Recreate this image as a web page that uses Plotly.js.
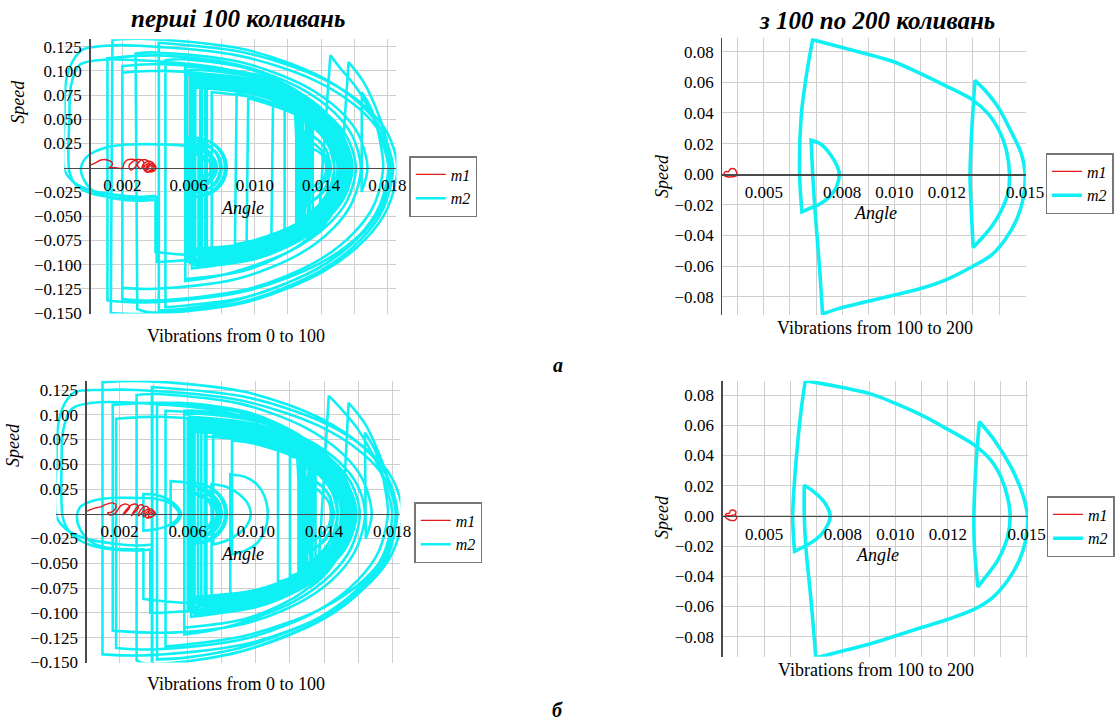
<!DOCTYPE html>
<html><head><meta charset="utf-8">
<script src="https://cdn.plot.ly/plotly-3.0.1.min.js"></script>
<style>html,body{margin:0;padding:0;background:#fff}#chart{width:1115px;height:720px}</style>
</head><body><div id="chart"></div>
<script>
// ---------- DATA: (angle, speed) points, grouped by loop / segment ----------
const p1_m1 = [[[0.0001,0.003],[0.0004,0.0052],[0.0007,0.008],[0.0011,0.008],[0.0014,0.0045],[0.0013,0.001],[0.0012,0.0004],[0.0016,0.0],[0.0020,-0.0006],[0.0021,0.0045],[0.0023,0.008],[0.0026,0.0087],[0.0029,0.0062],[0.0028,0.001],[0.0025,-0.0024],[0.0024,0.002],[0.0026,0.006],[0.0029,0.0085],[0.0032,0.0078],[0.0033,0.004],[0.0031,-0.001],[0.0029,0.003],[0.0031,0.0075],[0.0034,0.0082],[0.0036,0.006],[0.0036,0.001],[0.0034,-0.003],[0.0032,0.001],[0.0034,0.0055],[0.0037,0.0065],[0.0039,0.004],[0.0039,-0.001],[0.0037,-0.004],[0.0034,-0.004],[0.0033,0.0],[0.0035,0.004],[0.0038,0.0045],[0.0040,0.002],[0.0040,-0.002],[0.0037,-0.0045],[0.0034,-0.003],[0.0035,0.002],[0.0038,0.003],[0.0039,0.0],[0.0037,-0.003],[0.0035,-0.001],[0.0036,0.002],[0.0038,0.001],[0.0037,-0.002]]];

// loops shared by both "first 100" panels in the dense right-hand block
const rightBlockLoops = [
[[0.0124,0.066],[0.0132,0.058],[0.0140,0.046],[0.0147,0.029],[0.0151,0.012],[0.0152,0],[0.0151,-0.013],[0.0147,-0.031],[0.0140,-0.048],[0.0132,-0.060],[0.0125,-0.068]],
[[0.0125,0.040],[0.0132,0.036],[0.0138,0.029],[0.0143,0.018],[0.0145,0.008],[0.0146,0],[0.0145,-0.009],[0.0143,-0.019],[0.0138,-0.030],[0.0132,-0.038],[0.0126,-0.043]],
[[0.0126,0.070],[0.0134,0.062],[0.0142,0.049],[0.0149,0.031],[0.0153,0.013],[0.0154,0],[0.0153,-0.014],[0.0149,-0.033],[0.0142,-0.051],[0.0134,-0.064],[0.0127,-0.072]],
[[0.0127,0.048],[0.0134,0.043],[0.0140,0.034],[0.0145,0.021],[0.0147,0.009],[0.0148,0],[0.0147,-0.010],[0.0145,-0.022],[0.0140,-0.036],[0.0134,-0.046],[0.0129,-0.052]],
[[0.0129,0.068],[0.0136,0.060],[0.0143,0.047],[0.0149,0.030],[0.0152,0.013],[0.0153,0],[0.0152,-0.014],[0.0149,-0.032],[0.0143,-0.050],[0.0136,-0.062],[0.0130,-0.070]],
[[0.0130,0.035],[0.0136,0.031],[0.0141,0.024],[0.0144,0.015],[0.0145,0],[0.0144,-0.016],[0.0141,-0.026],[0.0136,-0.033],[0.0131,-0.037]],
[[0.0131,0.072],[0.0138,0.064],[0.0145,0.050],[0.0151,0.031],[0.0154,0.013],[0.0155,0],[0.0154,-0.014],[0.0151,-0.033],[0.0145,-0.052],[0.0138,-0.066],[0.0132,-0.074]],
[[0.0132,0.058],[0.0139,0.050],[0.0145,0.038],[0.0149,0.022],[0.0151,0],[0.0149,-0.023],[0.0145,-0.040],[0.0139,-0.052],[0.0133,-0.060]],
[[0.0133,0.066],[0.0140,0.057],[0.0146,0.044],[0.0151,0.027],[0.0153,0],[0.0151,-0.028],[0.0146,-0.046],[0.0140,-0.058],[0.0126,-0.070]],
[[0.0126,0.052],[0.0133,0.047],[0.0139,0.038],[0.0144,0.025],[0.0147,0.011],[0.0148,0],[0.0147,-0.012],[0.0144,-0.026],[0.0139,-0.040],[0.0133,-0.049],[0.0128,-0.055]]
];

const p1_m2 = [
[[0.0040,-0.029],[0.0030,-0.030],[0.0016,-0.028],[0.0000,-0.023],[-0.0010,-0.014],[-0.0015,-0.002],[-0.0015,0.050],[-0.0014,0.090],[-0.0010,0.110],[-0.0004,0.122],[0.0010,0.126],[0.0030,0.126],[0.00908,0.1155],[0.01364,0.090],[0.01622,0.0621],[0.01759,0.0353],[0.0182,0],[0.01759,-0.0414],[0.01622,-0.073],[0.01364,-0.1057],[0.00908,-0.1357],[0.0060,-0.145],[0.0042,-0.1475]],
[[0.0042,0.129],[0.00954,0.1183],[0.01407,0.0921],[0.01664,0.0636],[0.0180,0.0361],[0.0186,0],[0.0180,-0.0423],[0.01664,-0.0744],[0.01407,-0.1078],[0.00954,-0.1385],[0.0035,-0.151],[0.0013,-0.150]],
[[0.0014,0.132],[0.0035,0.133],[0.00942,0.122],[0.01386,0.095],[0.01638,0.0656],[0.01771,0.0372],[0.0183,0],[0.01771,-0.0389],[0.01638,-0.0685],[0.01386,-0.0992],[0.00942,-0.1275],[0.0035,-0.139],[0.0011,-0.137]],
[[0.0011,0.113],[0.0040,0.116],[0.00896,0.1064],[0.01268,0.0828],[0.01479,0.0572],[0.0159,0.0325],[0.0164,0],[0.0159,-0.035],[0.01479,-0.0616],[0.01268,-0.0893],[0.00896,-0.1146],[0.0040,-0.125],[0.0020,-0.124]],
[[0.0020,0.105],[0.0045,0.107],[0.00898,0.0981],[0.01234,0.0764],[0.01424,0.0528],[0.01525,0.030],[0.0157,0],[0.01525,-0.0272],[0.01424,-0.0478],[0.01234,-0.0693],[0.00898,-0.0889],[0.0045,-0.097],[0.0041,-0.097]],
[[0.0041,-0.030],[0.0030,-0.032],[0.0016,-0.031],[0.0002,-0.027],[-0.0008,-0.018],[-0.0012,-0.004],[-0.0012,0.050],[-0.0011,0.085],[-0.0006,0.106],[0.0005,0.111],[0.0030,0.111],[0.00824,0.1018],[0.01217,0.0793],[0.0144,0.0547],[0.01558,0.0311],[0.0161,0],[0.01558,-0.0336],[0.0144,-0.0592],[0.01217,-0.0857],[0.00824,-0.110],[0.0058,-0.117]],
[[0.0058,0.100],[0.0065,0.101],[0.01022,0.0926],[0.01301,0.0721],[0.01459,0.0498],[0.01543,0.0283],[0.0158,0],[0.01543,-0.0252],[0.01459,-0.0444],[0.01301,-0.0643],[0.01022,-0.0825],[0.0065,-0.090],[0.0040,-0.087]],
[[0.0040,-0.033],[0.0030,-0.034],[0.0016,-0.032],[0.0004,-0.026],[-0.0003,-0.013],[-0.0005,0.0],[-0.0001,0.012],[0.0010,0.021],[0.0025,0.024],[0.0045,0.024],[0.0058,0.0225],[0.0066,0.016],[0.0070,0.007],[0.0071,0.0],[0.0069,-0.010],[0.0065,-0.017],[0.0061,-0.021]],
[[0.0061,0.095],[0.0101,0.0871],[0.0128,0.0678],[0.01433,0.0468],[0.01514,0.0266],[0.0155,0],[0.01514,-0.028],[0.01433,-0.0493],[0.0128,-0.0714],[0.0101,-0.0917],[0.0065,-0.100],[0.0063,-0.100]],
[[0.0063,0.028],[0.00694,0.0257],[0.00742,0.020],[0.00769,0.0138],[0.00784,0.0078],[0.0079,0],[0.00784,-0.0073],[0.00769,-0.0128],[0.00742,-0.0186],[0.00694,-0.0238],[0.0062,-0.026]],
[[0.0062,0.088],[0.01002,0.0807],[0.01266,0.0628],[0.01416,0.0434],[0.01495,0.0246],[0.0153,0],[0.01495,-0.0272],[0.01416,-0.0478],[0.01266,-0.0693],[0.01002,-0.0889],[0.0065,-0.097],[0.0064,-0.097]],
[[0.0064,0.092],[0.01006,0.0844],[0.01273,0.0657],[0.01424,0.0454],[0.01504,0.0258],[0.0154,0],[0.01504,-0.0246],[0.01424,-0.0434],[0.01273,-0.0628],[0.01006,-0.0807],[0.0095,-0.082]],
[[0.0096,0.072],[0.01245,0.055],[0.0139,0.038],[0.01466,0.0216],[0.0150,0],[0.01466,-0.023],[0.0139,-0.0404],[0.01245,-0.0585],[0.0099,-0.0752],[0.0088,-0.079]],
[[0.0089,0.076],[0.00998,0.0724],[0.01259,0.0564],[0.01407,0.039],[0.01485,0.0221],[0.0152,0],[0.01485,-0.0252],[0.01407,-0.0444],[0.01259,-0.0643],[0.00998,-0.0825],[0.0065,-0.090],[0.0062,-0.090]],
[[0.0062,0.022],[0.00672,0.0202],[0.00711,0.0157],[0.00733,0.0108],[0.00745,0.0062],[0.0075,0],[0.00745,-0.0056],[0.00733,-0.0099],[0.00711,-0.0143],[0.00672,-0.0183],[0.0061,-0.020]],
[[0.0061,0.098],[0.01018,0.0899],[0.01294,0.070],[0.0145,0.0483],[0.01533,0.0274],[0.0157,0],[0.01533,-0.0286],[0.0145,-0.0503],[0.01294,-0.0728],[0.01018,-0.0935],[0.0068,-0.102]],
[[0.0068,0.085],[0.00998,0.0779],[0.01259,0.0607],[0.01407,0.0419],[0.01485,0.0238],[0.0152,0],[0.01485,-0.0263],[0.01407,-0.0463],[0.01259,-0.0671],[0.00998,-0.0862],[0.0065,-0.094],[0.0060,-0.094]],
[[0.0060,0.032],[0.0070,0.0293],[0.0076,0.0228],[0.00794,0.0158],[0.00812,0.009],[0.0082,0],[0.00812,-0.0084],[0.00794,-0.0148],[0.0076,-0.0214],[0.0070,-0.0275],[0.0062,-0.030]],
[[0.0062,0.091],[0.01014,0.0834],[0.01287,0.065],[0.01442,0.0449],[0.01524,0.0255],[0.0156,0],[0.01524,-0.0266],[0.01442,-0.0468],[0.0130,-0.066]],
[[0.0131,0.060],[0.01416,0.0449],[0.01495,0.0255],[0.0153,0],[0.01495,-0.0252],[0.01416,-0.0444],[0.0133,-0.058]],
[[0.0134,0.052],[0.0143,0.038],[0.0149,0.021],[0.0151,0],[0.0149,-0.021],[0.0143,-0.037],[0.0136,-0.048],[0.0128,-0.062],[0.0101,-0.082],[0.0065,-0.090],[0.0063,-0.090]],
[[0.0063,0.087],[0.01002,0.0798],[0.01266,0.0621],[0.01416,0.0429],[0.01495,0.0244],[0.0153,0],[0.01495,-0.0255],[0.01416,-0.0449],[0.0127,-0.065]],
[[0.0128,0.064],[0.0136,0.055],[0.01416,0.0454],[0.01495,0.0258],[0.0154,0],[0.01504,-0.0246],[0.01424,-0.0434],[0.01273,-0.0628],[0.01006,-0.0807],[0.0065,-0.088],[0.0061,-0.088]],
[[0.0061,0.025],[0.0067,0.0229],[0.00715,0.0179],[0.0074,0.0123],[0.00754,0.007],[0.0076,0],[0.00754,-0.0067],[0.0074,-0.0118],[0.00715,-0.0171],[0.0067,-0.022],[0.0062,-0.024]],
[[0.0062,0.094],[0.0101,0.0862],[0.0128,0.0671],[0.01433,0.0463],[0.01514,0.0263],[0.0155,0],[0.01514,-0.0274],[0.01433,-0.0483],[0.0128,-0.070],[0.0101,-0.0899],[0.0065,-0.098],[0.0061,-0.098]],
[[0.0061,0.090],[0.00998,0.0825],[0.01259,0.0643],[0.01407,0.0444],[0.01485,0.0252],[0.0152,0],[0.01485,-0.0238],[0.01407,-0.0419],[0.01259,-0.0607],[0.0110,-0.071]],
[[0.0111,0.068],[0.01259,0.0571],[0.01407,0.0394],[0.01485,0.0224],[0.0152,0],[0.01485,-0.0241],[0.01407,-0.0424],[0.01259,-0.0614],[0.00998,-0.0789],[0.0066,-0.086]],
[[0.0066,0.018],[0.0070,0.0165],[0.00737,0.0129],[0.00756,0.0089],[0.00766,0.005],[0.0077,0],[0.00766,-0.005],[0.00756,-0.0089],[0.00737,-0.0129],[0.0070,-0.0165],[0.0064,-0.018]],
[[0.0064,0.083],[0.00994,0.0761],[0.01252,0.0593],[0.01398,0.0409],[0.01476,0.0232],[0.0151,0],[0.01476,-0.0258],[0.01398,-0.0454],[0.0126,-0.066]],
[[0.0127,0.058],[0.0135,0.051],[0.01416,0.0434],[0.01495,0.0246],[0.0153,0],[0.01495,-0.0246],[0.01416,-0.0434],[0.0132,-0.057]],
[[0.0132,0.045],[0.0140,0.036],[0.0146,0.022],[0.0148,0],[0.0146,-0.022],[0.0140,-0.036],[0.0133,-0.048]],
[[0.0133,0.020],[0.0138,0.017],[0.0142,0.010],[0.0143,0],[0.0142,-0.010],[0.0138,-0.017],[0.0132,-0.021]],
[[0.0132,0.052],[0.0141,0.041],[0.0147,0.024],[0.0150,0],[0.0147,-0.024],[0.0139,-0.045]],
[[0.01456,0.116],[0.01515,0.103],[0.01616,0.082],[0.01717,0.051],[0.01776,0.023],[0.01806,0],[0.0175,-0.0406],[0.01623,-0.0715],[0.01384,-0.1035],[0.00962,-0.133],[0.0060,-0.142],[0.0046,-0.144]],
[[0.0046,0.111],[0.0055,0.112],[0.0095,0.1027],[0.0125,0.080],[0.0142,0.0552],[0.0151,0.0314],[0.0155,0],[0.0151,-0.0322],[0.0142,-0.0567],[0.0125,-0.0821],[0.0095,-0.1055],[0.0058,-0.115]],
[[0.0058,0.104],[0.0065,0.104],[0.01022,0.0954],[0.01301,0.0743],[0.01459,0.0513],[0.01543,0.0291],[0.0158,0],[0.01543,-0.028],[0.0151,-0.034]],
[[0.01566,0.109],[0.01656,0.0886],[0.01755,0.0512],[0.0180,0.025],[0.01835,0],[0.01776,-0.042],[0.01642,-0.074],[0.0139,-0.107],[0.00944,-0.1376],[0.0050,-0.149],[0.0035,-0.149],[0.0029,-0.146]],
[[0.0028,0.118],[0.0040,0.119],[0.00912,0.1091],[0.01296,0.085],[0.01514,0.0587],[0.01629,0.0333],[0.0168,0],[0.01645,-0.025]],
[[0.01646,0.078],[0.0170,0.062],[0.01735,0.044],[0.01762,0.022],[0.01775,0],[0.0172,-0.0384],[0.01596,-0.0675],[0.01363,-0.0978],[0.0095,-0.1256],[0.0040,-0.137],[0.0020,-0.1355]],
[[0.0020,0.098],[0.0045,0.100],[0.00906,0.0917],[0.01248,0.0714],[0.01442,0.0493],[0.01544,0.028],[0.0159,0],[0.01544,-0.0294],[0.01442,-0.0518],[0.01248,-0.075],[0.00906,-0.0963],[0.0062,-0.104]],
[[0.0062,0.096],[0.01014,0.088],[0.01287,0.0685],[0.01442,0.0473],[0.01524,0.0269],[0.0156,0],[0.01524,-0.0277],[0.01442,-0.0488],[0.01287,-0.0707],[0.01014,-0.0908],[0.0066,-0.099]],
[[0.0066,0.030],[0.00722,0.0275],[0.00776,0.0214],[0.00807,0.0148],[0.00823,0.0084],[0.0083,0],[0.00823,-0.0084],[0.00807,-0.0148],[0.00776,-0.0214],[0.00722,-0.0275],[0.0064,-0.030]],
[[0.0064,0.089],[0.01006,0.0816],[0.01273,0.0635],[0.01424,0.0439],[0.01504,0.0249],[0.0154,0],[0.01504,-0.026],[0.01424,-0.0458],[0.01273,-0.0664],[0.01006,-0.0853],[0.0072,-0.092],[0.0070,-0.092]],
[[0.0070,0.082],[0.00998,0.0755],[0.01259,0.0588],[0.01407,0.0406],[0.01485,0.0231],[0.0152,0],[0.01485,-0.0235],[0.01407,-0.0414],[0.01259,-0.060],[0.00998,-0.077],[0.0074,-0.083]],
[[0.0074,0.078],[0.00994,0.0724],[0.01252,0.0564],[0.01398,0.039],[0.01476,0.0221],[0.0151,0],[0.01476,-0.0241],[0.01398,-0.0424],[0.01252,-0.0614],[0.00994,-0.0789],[0.0065,-0.086],[0.0063,-0.086]],
[[0.0063,0.020],[0.0068,0.018],[0.0072,0.013],[0.0074,0.007],[0.0075,0],[0.0074,-0.007],[0.0072,-0.013],[0.0068,-0.018],[0.0062,-0.021]],
[[0.0062,0.093],[0.0101,0.0853],[0.0128,0.0664],[0.01433,0.0458],[0.01514,0.026],[0.0155,0],[0.01514,-0.0272],[0.01433,-0.0478],[0.0128,-0.0693],[0.0101,-0.0889],[0.0065,-0.097],[0.0059,-0.097]],
[[0.0059,0.096],[0.0101,0.0880],[0.0128,0.0685],[0.01433,0.0473],[0.01514,0.0269],[0.0155,0],[0.01514,-0.0266],[0.01433,-0.0468],[0.0128,-0.0678],[0.0101,-0.0871],[0.0071,-0.0945]],
[[0.0071,0.086],[0.01002,0.0807],[0.01266,0.0628],[0.01416,0.0434],[0.01495,0.0246],[0.0153,0],[0.01495,-0.0258],[0.01416,-0.0454],[0.01266,-0.0657],[0.01002,-0.0844],[0.0067,-0.092]],
[[0.0067,0.090],[0.01006,0.0825],[0.01273,0.0643],[0.01424,0.0444],[0.01504,0.0252],[0.0154,0],[0.01504,-0.0283],[0.01424,-0.0498],[0.01273,-0.0721],[0.01006,-0.0926],[0.0065,-0.101],[0.0064,-0.101]],
[[0.0064,0.084],[0.00994,0.077],[0.01252,0.060],[0.01398,0.0414],[0.01476,0.0235],[0.0151,0],[0.01476,-0.0252],[0.01398,-0.0444],[0.0129,-0.061]],
[[0.0129,0.062],[0.0137,0.053],[0.01433,0.0444],[0.01514,0.0252],[0.0155,0],[0.01514,-0.0252],[0.01433,-0.0444],[0.0135,-0.056]],
[[0.0135,0.050],[0.0142,0.040],[0.0148,0.024],[0.0151,0],[0.0148,-0.024],[0.0142,-0.040],[0.0134,-0.052],[0.0128,-0.060],[0.0101,-0.081],[0.0066,-0.088]],
[[0.0066,0.024],[0.00715,0.022],[0.0076,0.017],[0.00785,0.011],[0.00795,0.006],[0.0080,0],[0.00795,-0.006],[0.00785,-0.011],[0.0076,-0.017],[0.00715,-0.022],[0.0064,-0.025]],
[[0.0064,0.014],[0.0068,0.013],[0.0071,0.0095],[0.0073,0.005],[0.0073,0],[0.0073,-0.005],[0.0071,-0.0095],[0.0068,-0.013],[0.0063,-0.015]],
[[0.0063,0.097],[0.01018,0.089],[0.01294,0.0693],[0.0145,0.0478],[0.01533,0.0272],[0.0157,0],[0.01533,-0.0280],[0.0145,-0.0493],[0.01294,-0.0714],[0.01018,-0.0917],[0.0070,-0.099]],
[[0.0070,0.084],[0.00998,0.0770],[0.01259,0.060],[0.01407,0.0414],[0.01485,0.0235],[0.0152,0],[0.01485,-0.0232],[0.01407,-0.0409],[0.01259,-0.0593],[0.0118,-0.064]],
[[0.0118,0.060],[0.01259,0.055],[0.01407,0.038],[0.01485,0.0216],[0.0152,0],[0.01485,-0.0235],[0.01407,-0.0414],[0.01259,-0.060],[0.00998,-0.077],[0.0062,-0.084]],
[[0.0062,0.086],[0.01002,0.0789],[0.01266,0.0614],[0.01416,0.0424],[0.01495,0.0241],[0.0153,0],[0.01495,-0.0241],[0.01416,-0.0424],[0.0128,-0.058]],
[[0.0128,0.030],[0.0134,0.027],[0.0139,0.020],[0.0143,0.011],[0.0144,0],[0.0143,-0.011],[0.0139,-0.020],[0.0134,-0.027],[0.0127,-0.031]]
].concat(rightBlockLoops).concat([
[[0.0127,0.055],[0.0135,0.048],[0.01416,0.040],[0.01495,0.0228],[0.0153,0],[0.01495,-0.0246],[0.01416,-0.0434],[0.01273,-0.0628],[0.01006,-0.0807],[0.0065,-0.088],[0.0060,-0.088]]
]);

const p2_m1 = [[[0.00348,0.0],[0.00350,0.0012],[0.00358,0.0018],[0.00365,0.0016],[0.0037,0.003],[0.0038,0.0037],[0.0039,0.0032],[0.00395,0.0015],[0.00398,0.0],[0.00395,-0.0012],[0.0038,-0.0017],[0.0036,-0.0017],[0.0035,-0.001],[0.00348,0.0]]];

const p2_m2 = [
[[0.00687,0.0878],[0.0089,0.0787],[0.0100,0.0733],[0.0110,0.0657],[0.0120,0.0574],[0.01297,0.0487],[0.01358,0.0396],[0.01403,0.0276],[0.01428,0.0157],[0.0144,0],[0.01434,-0.0126],[0.01409,-0.0235],[0.01371,-0.0343],[0.01333,-0.042],[0.01301,-0.0478]],
[[0.01301,-0.0478],[0.01292,-0.017],[0.01289,0],[0.01295,0.0265],[0.01308,0.0613]],
[[0.01308,0.0613],[0.01346,0.0548],[0.01396,0.0439],[0.01447,0.0276],[0.01485,0.0135],[0.0150,0],[0.01491,-0.017],[0.01466,-0.030],[0.01422,-0.043],[0.01371,-0.0528],[0.01297,-0.0604],[0.01194,-0.0691],[0.0110,-0.0746],[0.0100,-0.0789],[0.0089,-0.0833],[0.00789,-0.0876],[0.00725,-0.0913]],
[[0.00725,-0.0913],[0.00713,-0.0604],[0.00697,-0.0257],[0.00687,0.0004],[0.00681,0.0222]],
[[0.00681,0.0222],[0.00719,0.0196],[0.00757,0.0124],[0.00782,0.0048],[0.00789,0],[0.00778,-0.0083],[0.00751,-0.0148],[0.00713,-0.0196],[0.00675,-0.0224],[0.00646,-0.0246]],
[[0.00646,-0.0246],[0.00637,0],[0.00643,0.0374],[0.00662,0.0635],[0.00687,0.0878]]
];

const p3_m1 = [[[0.0001,0.0027],[0.0006,0.006],[0.0009,0.007],[0.0012,0.0095],[0.0016,0.011],[0.0018,0.0085],[0.0017,0.004],[0.0015,0.0015],[0.0013,0.001],[0.0014,-0.001],[0.0017,0.0],[0.0019,0.004],[0.0021,0.0085],[0.0024,0.0098],[0.0026,0.007],[0.0024,0.002],[0.0022,-0.001],[0.0024,0.004],[0.0027,0.009],[0.0030,0.0095],[0.0031,0.006],[0.0028,0.0],[0.0027,-0.002],[0.0029,0.004],[0.0032,0.009],[0.0034,0.008],[0.0034,0.003],[0.0031,-0.002],[0.0032,0.003],[0.0035,0.0075],[0.0037,0.006],[0.0037,0.001],[0.0034,-0.003],[0.0035,0.003],[0.0038,0.005],[0.0040,0.003],[0.0041,0.0],[0.0039,-0.003],[0.0036,-0.004],[0.0035,-0.001],[0.0037,0.003],[0.0040,0.002],[0.0040,-0.002],[0.0037,-0.003],[0.0038,0.001],[0.0040,0.0]]];

const p3_m2 = [
[[0.0039,-0.031],[0.0030,-0.032],[0.0016,-0.030],[0.0000,-0.025],[-0.0011,-0.016],[-0.0017,-0.003],[-0.0017,0.050],[-0.0016,0.090],[-0.0012,0.112],[-0.0006,0.123],[0.0010,0.125],[0.0030,0.125],[0.00908,0.1146],[0.01364,0.0893],[0.01622,0.0616],[0.01759,0.035],[0.0182,0],[0.01759,-0.0426],[0.01622,-0.075],[0.01364,-0.1085],[0.00908,-0.1394],[0.0060,-0.149],[0.0039,-0.152]],
[[0.0039,0.128],[0.00954,0.1174],[0.01407,0.0914],[0.01664,0.0631],[0.0180,0.0358],[0.0186,0],[0.0180,-0.040],[0.01664,-0.0705],[0.01407,-0.1021],[0.00954,-0.1311],[0.0035,-0.143],[0.0010,-0.142]],
[[0.0010,0.133],[0.0035,0.134],[0.00942,0.1229],[0.01386,0.0957],[0.01638,0.0661],[0.01771,0.0375],[0.0183,0],[0.01771,-0.0375],[0.01638,-0.0661],[0.01386,-0.0957],[0.00942,-0.1229],[0.0047,-0.134]],
[[0.0047,0.104],[0.00956,0.0963],[0.01298,0.075],[0.01492,0.0518],[0.01594,0.0294],[0.0164,0],[0.01594,-0.0336],[0.01492,-0.0592],[0.01298,-0.0857],[0.00956,-0.110],[0.0050,-0.120],[0.0016,-0.118]],
[[0.0016,0.110],[0.0045,0.112],[0.00898,0.1027],[0.01234,0.080],[0.01424,0.0552],[0.01525,0.0314],[0.0157,0],[0.01525,-0.028],[0.01424,-0.0493],[0.01234,-0.0714],[0.00898,-0.0917],[0.0045,-0.100],[0.0038,-0.100]],
[[0.0038,-0.036],[0.0030,-0.037],[0.0016,-0.036],[0.0002,-0.031],[-0.0008,-0.021],[-0.0013,-0.006],[-0.0014,0.050],[-0.0013,0.085],[-0.0008,0.106],[0.0004,0.112],[0.0030,0.112],[0.00824,0.1027],[0.01217,0.080],[0.0144,0.0552],[0.01558,0.0314],[0.0161,0],[0.01558,-0.035],[0.0144,-0.0616],[0.01217,-0.0893],[0.00824,-0.1146],[0.0058,-0.122]],
[[0.0058,0.100],[0.0065,0.101],[0.01022,0.0926],[0.01301,0.0721],[0.01459,0.0498],[0.01543,0.0283],[0.0158,0],[0.01543,-0.0252],[0.01459,-0.0444],[0.01301,-0.0643],[0.01022,-0.0825],[0.0065,-0.090],[0.0034,-0.086]],
[[0.0034,-0.036],[0.0025,-0.036],[0.0012,-0.034],[0.0003,-0.028],[-0.0003,-0.016],[-0.0005,-0.003],[-0.0003,0.007],[0.0004,0.013],[0.0015,0.016],[0.0030,0.016],[0.0040,0.0155],[0.0048,0.012],[0.0053,0.006],[0.0055,0],[0.0053,-0.007],[0.0047,-0.013],[0.0040,-0.016],[0.0034,-0.017]],
[[0.0034,0.020],[0.0042,0.019],[0.0049,0.014],[0.0054,0.007],[0.0056,0],[0.0054,-0.008],[0.0050,-0.013]],
[[0.0050,0.033],[0.0060,0.031],[0.0068,0.025],[0.0074,0.016],[0.0077,0.008],[0.0078,0],[0.0077,-0.008],[0.0074,-0.016],[0.0068,-0.025],[0.0061,-0.030]],
[[0.0061,0.095],[0.0101,0.0871],[0.0128,0.0678],[0.01433,0.0468],[0.01514,0.0266],[0.0155,0],[0.01514,-0.028],[0.01433,-0.0493],[0.0128,-0.0714],[0.0101,-0.0917],[0.0065,-0.100],[0.0063,-0.100]],
[[0.0063,0.028],[0.00694,0.0257],[0.00742,0.020],[0.00769,0.0138],[0.00784,0.0078],[0.0079,0],[0.00784,-0.0073],[0.00769,-0.0128],[0.00742,-0.0186],[0.00694,-0.0238],[0.0062,-0.026]],
[[0.0062,0.088],[0.01002,0.0807],[0.01266,0.0628],[0.01416,0.0434],[0.01495,0.0246],[0.0153,0],[0.01495,-0.0272],[0.01416,-0.0478],[0.01266,-0.0693],[0.01002,-0.0889],[0.0074,-0.096]],
[[0.0074,0.030],[0.0083,0.027],[0.0090,0.020],[0.0095,0.011],[0.0097,0],[0.0095,-0.011],[0.0090,-0.020],[0.0083,-0.027],[0.0075,-0.031]],
[[0.0075,0.080],[0.00998,0.0745],[0.01259,0.058],[0.01407,0.040],[0.01485,0.0228],[0.0152,0],[0.01485,-0.024],[0.01407,-0.042],[0.01259,-0.061],[0.00998,-0.078],[0.0085,-0.081]],
[[0.0085,0.040],[0.0094,0.037],[0.0101,0.029],[0.0105,0.018],[0.0107,0],[0.0105,-0.018],[0.0101,-0.029],[0.0094,-0.037],[0.0086,-0.041]],
[[0.0086,0.074],[0.00998,0.0705],[0.01259,0.0551],[0.01407,0.038],[0.01485,0.0216],[0.0152,0],[0.01485,-0.0252],[0.01407,-0.0444],[0.01259,-0.0643],[0.00998,-0.0825],[0.0065,-0.090],[0.0062,-0.090]],
[[0.0062,0.022],[0.00672,0.0202],[0.00711,0.0157],[0.00733,0.0108],[0.00745,0.0062],[0.0075,0],[0.00745,-0.0056],[0.00733,-0.0099],[0.00711,-0.0143],[0.00672,-0.0183],[0.0061,-0.020]],
[[0.0061,0.098],[0.01018,0.0899],[0.01294,0.070],[0.0145,0.0483],[0.01533,0.0274],[0.0157,0],[0.01533,-0.0286],[0.0145,-0.0503],[0.01294,-0.0728],[0.01018,-0.0935],[0.0068,-0.102]],
[[0.0068,0.085],[0.00998,0.0779],[0.01259,0.0607],[0.01407,0.0419],[0.01485,0.0238],[0.0152,0],[0.01485,-0.0263],[0.01407,-0.0463],[0.01259,-0.0671],[0.00998,-0.0862],[0.0065,-0.094],[0.0060,-0.094]],
[[0.0060,0.032],[0.0070,0.0293],[0.0076,0.0228],[0.00794,0.0158],[0.00812,0.009],[0.0082,0],[0.00812,-0.0084],[0.00794,-0.0148],[0.0076,-0.0214],[0.0070,-0.0275],[0.0062,-0.030]],
[[0.0062,0.091],[0.01014,0.0834],[0.01287,0.065],[0.01442,0.0449],[0.01524,0.0255],[0.0156,0],[0.01524,-0.0266],[0.01442,-0.0468],[0.0130,-0.066]],
[[0.0131,0.060],[0.01416,0.0449],[0.01495,0.0255],[0.0153,0],[0.01495,-0.0252],[0.01416,-0.0444],[0.0133,-0.058]],
[[0.0134,0.052],[0.0143,0.038],[0.0149,0.021],[0.0151,0],[0.0149,-0.021],[0.0143,-0.037],[0.0136,-0.048],[0.0128,-0.062],[0.0101,-0.082],[0.0065,-0.090],[0.0063,-0.090]],
[[0.0063,0.087],[0.01002,0.0798],[0.01266,0.0621],[0.01416,0.0429],[0.01495,0.0244],[0.0153,0],[0.01495,-0.0255],[0.01416,-0.0449],[0.0127,-0.065]],
[[0.0128,0.064],[0.0136,0.055],[0.01416,0.0454],[0.01495,0.0258],[0.0154,0],[0.01504,-0.0246],[0.01424,-0.0434],[0.01273,-0.0628],[0.01006,-0.0807],[0.0065,-0.088],[0.0061,-0.088]],
[[0.0061,0.094],[0.0101,0.0862],[0.0128,0.0671],[0.01433,0.0463],[0.01514,0.0263],[0.0155,0],[0.01514,-0.0274],[0.01433,-0.0483],[0.0128,-0.070],[0.0101,-0.0899],[0.0065,-0.098],[0.0061,-0.098]],
[[0.0061,0.090],[0.00998,0.0825],[0.01259,0.0643],[0.01407,0.0444],[0.01485,0.0252],[0.0152,0],[0.01485,-0.0238],[0.01407,-0.0419],[0.01259,-0.0607],[0.0113,-0.069]],
[[0.0113,0.066],[0.01259,0.0571],[0.01407,0.0394],[0.01485,0.0224],[0.0152,0],[0.01485,-0.0241],[0.01407,-0.0424],[0.01259,-0.0614],[0.00998,-0.0789],[0.0066,-0.086]],
[[0.0066,0.018],[0.0070,0.0165],[0.00737,0.0129],[0.00756,0.0089],[0.00766,0.005],[0.0077,0],[0.00766,-0.005],[0.00756,-0.0089],[0.00737,-0.0129],[0.0070,-0.0165],[0.0064,-0.018]],
[[0.0064,0.083],[0.00994,0.0761],[0.01252,0.0593],[0.01398,0.0409],[0.01476,0.0232],[0.0151,0],[0.01476,-0.0258],[0.01398,-0.0454],[0.0126,-0.066]],
[[0.0127,0.058],[0.0135,0.051],[0.01416,0.0434],[0.01495,0.0246],[0.0153,0],[0.01495,-0.0246],[0.01416,-0.0434],[0.0132,-0.057]],
[[0.0132,0.045],[0.0140,0.036],[0.0146,0.022],[0.0148,0],[0.0146,-0.022],[0.0140,-0.036],[0.0133,-0.048]],
[[0.0133,0.052],[0.0141,0.041],[0.0147,0.024],[0.0150,0],[0.0147,-0.024],[0.0137,-0.047]],
[[0.01428,0.119],[0.0150,0.106],[0.0160,0.085],[0.01705,0.053],[0.0177,0.024],[0.0180,0],[0.0175,-0.0406],[0.01623,-0.0715],[0.01384,-0.1035],[0.00962,-0.133],[0.0060,-0.145],[0.0042,-0.147]],
[[0.0042,0.111],[0.0055,0.112],[0.0095,0.1027],[0.0125,0.080],[0.0142,0.0552],[0.0151,0.0314],[0.0155,0],[0.0151,-0.0322],[0.0142,-0.0567],[0.0125,-0.0821],[0.0095,-0.1055],[0.0058,-0.115]],
[[0.0058,0.104],[0.0065,0.104],[0.01022,0.0954],[0.01301,0.0743],[0.01459,0.0513],[0.01543,0.0291],[0.0158,0],[0.01543,-0.028],[0.0150,-0.035]],
[[0.01544,0.112],[0.0164,0.091],[0.0174,0.053],[0.0179,0.026],[0.01825,0],[0.01776,-0.042],[0.01642,-0.074],[0.0139,-0.107],[0.00944,-0.1376],[0.0050,-0.151],[0.0034,-0.151],[0.0030,-0.148]],
[[0.0030,0.120],[0.0040,0.121],[0.00912,0.111],[0.01296,0.0865],[0.01514,0.0597],[0.01629,0.0339],[0.0168,0],[0.01645,-0.025]],
[[0.0164,0.082],[0.0170,0.064],[0.01735,0.045],[0.01762,0.022],[0.01775,0],[0.0172,-0.0384],[0.01596,-0.0675],[0.01363,-0.0978],[0.0095,-0.1256],[0.0040,-0.137],[0.0018,-0.1355]],
[[0.0018,0.096],[0.0045,0.098],[0.00906,0.0899],[0.01248,0.070],[0.01442,0.0483],[0.01544,0.0274],[0.0159,0],[0.01544,-0.0294],[0.01442,-0.0518],[0.01248,-0.075],[0.00906,-0.0963],[0.0062,-0.104]],
[[0.0062,0.096],[0.01014,0.088],[0.01287,0.0685],[0.01442,0.0473],[0.01524,0.0269],[0.0156,0],[0.01524,-0.0277],[0.01442,-0.0488],[0.01287,-0.0707],[0.01014,-0.0908],[0.0066,-0.099]],
[[0.0066,0.030],[0.00722,0.0275],[0.00776,0.0214],[0.00807,0.0148],[0.00823,0.0084],[0.0083,0],[0.00823,-0.0084],[0.00807,-0.0148],[0.00776,-0.0214],[0.00722,-0.0275],[0.0064,-0.030]],
[[0.0064,0.089],[0.01006,0.0816],[0.01273,0.0635],[0.01424,0.0439],[0.01504,0.0249],[0.0154,0],[0.01504,-0.026],[0.01424,-0.0458],[0.01273,-0.0664],[0.01006,-0.0853],[0.0072,-0.092],[0.0070,-0.092]],
[[0.0070,0.078],[0.00994,0.0724],[0.01252,0.0564],[0.01398,0.039],[0.01476,0.0221],[0.0151,0],[0.01476,-0.0241],[0.01398,-0.0424],[0.01252,-0.0614],[0.00994,-0.0789],[0.0065,-0.086],[0.0063,-0.086]],
[[0.0063,0.020],[0.0068,0.018],[0.0072,0.013],[0.0074,0.007],[0.0075,0],[0.0074,-0.007],[0.0072,-0.013],[0.0068,-0.018],[0.0062,-0.021]],
[[0.0062,0.093],[0.0101,0.0853],[0.0128,0.0664],[0.01433,0.0458],[0.01514,0.026],[0.0155,0],[0.01514,-0.0272],[0.01433,-0.0478],[0.0128,-0.0693],[0.0101,-0.0889],[0.0065,-0.097],[0.0060,-0.097]],
[[0.0060,0.095],[0.0101,0.0871],[0.0128,0.0678],[0.01433,0.0468],[0.01514,0.0266],[0.0155,0],[0.01514,-0.0266],[0.01433,-0.0468],[0.0128,-0.0678],[0.0101,-0.0871],[0.0070,-0.0945]],
[[0.0070,0.087],[0.01002,0.0807],[0.01266,0.0628],[0.01416,0.0434],[0.01495,0.0246],[0.0153,0],[0.01495,-0.0258],[0.01416,-0.0454],[0.01266,-0.0657],[0.01002,-0.0844],[0.0066,-0.092]],
[[0.0066,0.091],[0.01006,0.0834],[0.01273,0.065],[0.01424,0.0449],[0.01504,0.0255],[0.0154,0],[0.01504,-0.0283],[0.01424,-0.0498],[0.01273,-0.0721],[0.01006,-0.0926],[0.0065,-0.101],[0.0064,-0.101]],
[[0.0064,0.084],[0.00994,0.077],[0.01252,0.060],[0.01398,0.0414],[0.01476,0.0235],[0.0151,0],[0.01476,-0.0252],[0.01398,-0.0444],[0.0129,-0.061]],
[[0.0129,0.062],[0.0137,0.053],[0.01433,0.0444],[0.01514,0.0252],[0.0155,0],[0.01514,-0.0252],[0.01433,-0.0444],[0.0135,-0.056]],
[[0.0135,0.050],[0.0142,0.040],[0.0148,0.024],[0.0151,0],[0.0148,-0.024],[0.0142,-0.040],[0.0134,-0.052],[0.0128,-0.060],[0.0101,-0.081],[0.0066,-0.088]],
[[0.0066,0.024],[0.00715,0.022],[0.0076,0.017],[0.00785,0.011],[0.00795,0.006],[0.0080,0],[0.00795,-0.006],[0.00785,-0.011],[0.0076,-0.017],[0.00715,-0.022],[0.0064,-0.025]],
[[0.0064,0.097],[0.01018,0.089],[0.01294,0.0693],[0.0145,0.0478],[0.01533,0.0272],[0.0157,0],[0.01533,-0.0280],[0.0145,-0.0493],[0.01294,-0.0714],[0.01018,-0.0917],[0.0071,-0.099]],
[[0.0071,0.083],[0.00998,0.0770],[0.01259,0.060],[0.01407,0.0414],[0.01485,0.0235],[0.0152,0],[0.01485,-0.0232],[0.01407,-0.0409],[0.01259,-0.0593],[0.0120,-0.063]],
[[0.0120,0.058],[0.01259,0.055],[0.01407,0.038],[0.01485,0.0216],[0.0152,0],[0.01485,-0.0235],[0.01407,-0.0414],[0.01259,-0.060],[0.00998,-0.077],[0.0062,-0.084]],
[[0.0062,0.086],[0.01002,0.0789],[0.01266,0.0614],[0.01416,0.0424],[0.01495,0.0241],[0.0153,0],[0.01495,-0.0241],[0.01416,-0.0424],[0.0128,-0.058]],
[[0.0128,0.030],[0.0134,0.027],[0.0139,0.020],[0.0143,0.011],[0.0144,0],[0.0143,-0.011],[0.0139,-0.020],[0.0134,-0.027],[0.0127,-0.031]]
].concat(rightBlockLoops).concat([
[[0.0127,0.055],[0.0135,0.048],[0.01416,0.040],[0.01495,0.0228],[0.0153,0],[0.01495,-0.0246],[0.01416,-0.0434],[0.01273,-0.0628],[0.01006,-0.0807],[0.0065,-0.088],[0.0060,-0.088]]
]);

const p4_m1 = [[[0.00352,0.0],[0.00356,0.0015],[0.00368,0.0018],[0.00372,0.0035],[0.00385,0.0037],[0.00393,0.0025],[0.0039,0.0008],[0.00396,-0.001],[0.0039,-0.0028],[0.00375,-0.0031],[0.0036,-0.002],[0.00352,-0.0008],[0.00352,0.0],[0.00375,0.0002],[0.0039,0.0008]]];

const p4_m2 = [
[[0.00657,0.0895],[0.00899,0.0811],[0.0100,0.0745],[0.0110,0.0667],[0.01194,0.0578],[0.01301,0.0468],[0.01364,0.0368],[0.01402,0.0257],[0.01427,0.0124],[0.01437,0],[0.01427,-0.0142],[0.01389,-0.0297],[0.01352,-0.0386],[0.01314,-0.047]],
[[0.01314,-0.047],[0.01301,-0.0208],[0.01299,0],[0.01308,0.0368],[0.0132,0.0623]],
[[0.0132,0.0623],[0.01377,0.0501],[0.0144,0.0324],[0.01484,0.0146],[0.01503,0],[0.01496,-0.0164],[0.01471,-0.0297],[0.01427,-0.043],[0.0137,-0.0541],[0.01301,-0.0618],[0.01201,-0.0685],[0.0110,-0.074],[0.00999,-0.0796],[0.00899,-0.0851],[0.00798,-0.0895],[0.00697,-0.094]],
[[0.00697,-0.094],[0.00679,-0.0563],[0.00659,-0.0208],[0.00653,0],[0.00653,0.0202]],
[[0.00653,0.0202],[0.00691,0.0157],[0.00729,0.0091],[0.00752,0],[0.00729,-0.0098],[0.00691,-0.0164],[0.00647,-0.0208],[0.00616,-0.0235]],
[[0.00616,-0.0235],[0.00609,0],[0.00622,0.0368],[0.00641,0.070],[0.00657,0.0895]]
];

// tick values and labels
const ticksWide_x = [0.002,0.004,0.006,0.008,0.010,0.012,0.014,0.016,0.018];
const ticksWide_xlab = ['0.002','','0.006','','0.010','','0.014','','0.018'];
const ticksWide_y = [0.125,0.1,0.075,0.05,0.025,-0.025,-0.05,-0.075,-0.1,-0.125,-0.15];
const ticksWide_ylab = ['0.125','0.100','0.075','0.050','0.025','\u22120.025','\u22120.050','\u22120.075','\u22120.100','\u22120.125','\u22120.150'];
const ticksNarrow_x = [0.004,0.005,0.006,0.007,0.008,0.009,0.010,0.011,0.012,0.013,0.014,0.015];
const ticksNarrow_xlab = ['','0.005','','','0.008','','0.010','','0.012','','','0.015'];
const ticksNarrow_y = [0.08,0.06,0.04,0.02,0,-0.02,-0.04,-0.06,-0.08];
const ticksNarrow_ylab = ['0.08','0.06','0.04','0.02','0.00','\u22120.02','\u22120.04','\u22120.06','\u22120.08'];

// ---------- LAYOUT ----------
const W=1115, H=720;
const FONT='Liberation Serif';
const CYAN='#0ff0f4', RED='#e3191c';
const tickfont={family:FONT,size:17,color:'#000'};

// join segments; the end points of every segment are repeated so that the spline keeps sharp corners there
function joinSegments(segs){
  const xs=[], ys=[];
  segs.forEach(seg=>{
    const first=seg[0], last=seg[seg.length-1];
    xs.push(first[0]); ys.push(first[1]);
    seg.forEach(pt=>{xs.push(pt[0]); ys.push(pt[1]);});
    xs.push(last[0]); ys.push(last[1]);
  });
  return {x:xs, y:ys};
}

const panels = [
  {box:[65,400,39.3,313.5], xr:[-0.0015,0.01855], yr:[-0.1505,0.1326], xt:ticksWide_x, xl:ticksWide_xlab, yt:ticksWide_y, yl:ticksWide_ylab, yAtZero:true, m1:p1_m1, m2:p1_m2, w2:2.6},
  {box:[729,1035,38.3,315], xr:[0.00342,0.01502], yr:[-0.09193,0.08874], xt:ticksNarrow_x, xl:ticksNarrow_xlab, yt:ticksNarrow_y, yl:ticksNarrow_ylab, yAtZero:false, m1:p2_m1, m2:p2_m2, w2:3.6},
  {box:[57,404,380.7,662.5], xr:[-0.0017,0.01848], yr:[-0.1502,0.1344], xt:ticksWide_x, xl:ticksWide_xlab, yt:ticksWide_y, yl:ticksWide_ylab, yAtZero:true, m1:p3_m1, m2:p3_m2, w2:2.6},
  {box:[729.3,1037.3,380.7,656.7], xr:[0.003426,0.01505], yr:[-0.0933,0.0895], xt:ticksNarrow_x, xl:ticksNarrow_xlab, yt:ticksNarrow_y, yl:ticksNarrow_ylab, yAtZero:false, m1:p4_m1, m2:p4_m2, w2:3.6}
];
const legendPos = [[413,156],[1055,153],[418,502],[1056,496]];

const layout = {width:W, height:H, margin:{l:0,r:0,t:0,b:0}, paper_bgcolor:'#fff', plot_bgcolor:'#fff', hovermode:false, annotations:[]};
const data = [];
panels.forEach((p,i)=>{
  const n = i===0?'':String(i+1);
  const xd=[p.box[0]/W, p.box[1]/W], yd=[1-p.box[3]/H, 1-p.box[2]/H];
  const xZeroPos = yd[0] + (0-p.yr[0])/(p.yr[1]-p.yr[0])*(yd[1]-yd[0]);
  const yZeroPos = xd[0] + (0-p.xr[0])/(p.xr[1]-p.xr[0])*(xd[1]-xd[0]);
  layout['xaxis'+n] = {domain:xd, range:p.xr, tickmode:'array', tickvals:p.xt, ticktext:p.xl,
    showgrid:true, gridcolor:'#cfcfcf', gridwidth:1, zeroline:false, showline:true, linecolor:'#4a4a4a', linewidth:1.3,
    anchor:'free', position:xZeroPos, ticks:'', tickfont:tickfont, ticklabelstandoff:2, fixedrange:true};
  const ya = {domain:yd, range:p.yr, tickmode:'array', tickvals:p.yt, ticktext:p.yl,
    showgrid:true, gridcolor:'#cfcfcf', gridwidth:1, zeroline:false, showline:true, linecolor:'#4a4a4a', linewidth:1.3,
    ticks:'', tickfont:tickfont, ticklabelstandoff:4, fixedrange:true};
  if (p.yAtZero) { ya.anchor='free'; ya.position=yZeroPos; } else { ya.anchor='x'+n; }
  layout['yaxis'+n] = ya;
  const lg = 'legend'+n;
  layout[lg] = {x:legendPos[i][0]/W, y:1-legendPos[i][1]/H, xanchor:'left', yanchor:'top',
    bgcolor:'#fff', bordercolor:'#777', borderwidth:1.5, font:{family:FONT,size:16,style:'italic',color:'#000'},
    itemwidth:30, tracegroupgap:0};
  const c2 = joinSegments(p.m2), c1 = joinSegments(p.m1);
  data.push({x:c2.x, y:c2.y, xaxis:'x'+n, yaxis:'y'+n, type:'scatter', mode:'lines',
    name:'m2', legend:lg, legendrank:2, line:{color:CYAN, width:p.w2, shape:'spline', smoothing:0.9, simplify:false}});
  data.push({x:c1.x, y:c1.y, xaxis:'x'+n, yaxis:'y'+n, type:'scatter', mode:'lines',
    name:'m1', legend:lg, legendrank:1, line:{color:RED, width:1.4, shape:'spline', smoothing:0.9, simplify:false}});
});

function ann(text, x, y, size, extra){
  return Object.assign({text:text, x:x/W, y:1-y/H, xref:'paper', yref:'paper', xanchor:'center', yanchor:'middle',
    showarrow:false, font:{family:FONT, size:size, color:'#000'}}, extra||{});
}
layout.annotations.push(ann('<b><i>перші 100 коливань</i></b>', 240, 18, 25));
layout.annotations.push(ann('<b><i>з 100 по 200 коливань</i></b>', 885, 20, 25));
layout.annotations.push(ann('<i>Speed</i>', 18, 102, 18, {textangle:-90}));
layout.annotations.push(ann('<i>Speed</i>', 668, 176, 18, {textangle:-90}));
layout.annotations.push(ann('<i>Speed</i>', 13, 445, 18, {textangle:-90}));
layout.annotations.push(ann('<i>Speed</i>', 668, 517, 18, {textangle:-90}));
layout.annotations.push(ann('<i>Angle</i>', 245, 208, 18));
layout.annotations.push(ann('<i>Angle</i>', 883, 213, 18));
layout.annotations.push(ann('<i>Angle</i>', 245, 554, 18));
layout.annotations.push(ann('<i>Angle</i>', 885, 555, 18));
layout.annotations.push(ann('Vibrations from 0 to 100', 238, 336, 18));
layout.annotations.push(ann('Vibrations from 100 to 200', 883, 328, 18));
layout.annotations.push(ann('Vibrations from 0 to 100', 238, 684, 18));
layout.annotations.push(ann('Vibrations from 100 to 200', 884, 670, 18));
layout.annotations.push(ann('<b><i>а</i></b>', 563, 365, 20));
layout.annotations.push(ann('<b><i>б</i></b>', 563, 710, 20));

Plotly.newPlot('chart', data, layout, {staticPlot:true, displayModeBar:false});
</script></body></html>
